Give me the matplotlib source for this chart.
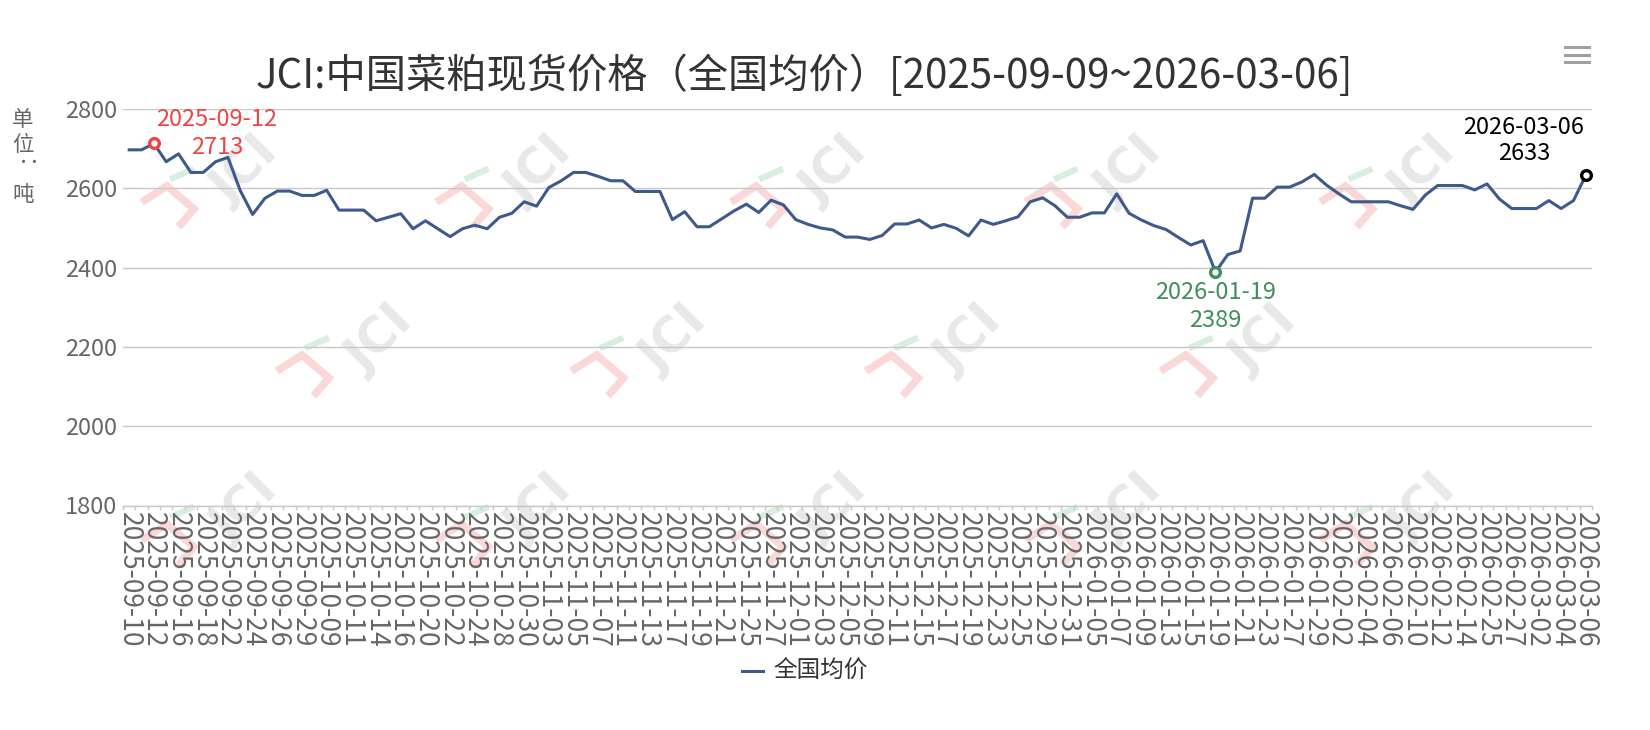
import matplotlib
matplotlib.use('Agg')
import matplotlib.pyplot as plt
from matplotlib.lines import Line2D
import numpy as np

plt.rcParams['font.family'] = ['Noto Sans CJK SC', 'DejaVu Sans']

dates = [
    "2025-09-10", "2025-09-11", "2025-09-12", "2025-09-15", "2025-09-16", "2025-09-17",
    "2025-09-18", "2025-09-19", "2025-09-22", "2025-09-23", "2025-09-24", "2025-09-25",
    "2025-09-26", "2025-09-28", "2025-09-29", "2025-09-30", "2025-10-09", "2025-10-10",
    "2025-10-11", "2025-10-13", "2025-10-14", "2025-10-15", "2025-10-16", "2025-10-17",
    "2025-10-20", "2025-10-21", "2025-10-22", "2025-10-23", "2025-10-24", "2025-10-27",
    "2025-10-28", "2025-10-29", "2025-10-30", "2025-10-31", "2025-11-03", "2025-11-04",
    "2025-11-05", "2025-11-06", "2025-11-07", "2025-11-10", "2025-11-11", "2025-11-12",
    "2025-11-13", "2025-11-14", "2025-11-17", "2025-11-18", "2025-11-19", "2025-11-20",
    "2025-11-21", "2025-11-24", "2025-11-25", "2025-11-26", "2025-11-27", "2025-11-28",
    "2025-12-01", "2025-12-02", "2025-12-03", "2025-12-04", "2025-12-05", "2025-12-08",
    "2025-12-09", "2025-12-10", "2025-12-11", "2025-12-12", "2025-12-15", "2025-12-16",
    "2025-12-17", "2025-12-18", "2025-12-19", "2025-12-22", "2025-12-23", "2025-12-24",
    "2025-12-25", "2025-12-26", "2025-12-29", "2025-12-30", "2025-12-31", "2026-01-04",
    "2026-01-05", "2026-01-06", "2026-01-07", "2026-01-08", "2026-01-09", "2026-01-12",
    "2026-01-13", "2026-01-14", "2026-01-15", "2026-01-16", "2026-01-19", "2026-01-20",
    "2026-01-21", "2026-01-22", "2026-01-23", "2026-01-26", "2026-01-27", "2026-01-28",
    "2026-01-29", "2026-01-30", "2026-02-02", "2026-02-03", "2026-02-04", "2026-02-05",
    "2026-02-06", "2026-02-09", "2026-02-10", "2026-02-11", "2026-02-12", "2026-02-13",
    "2026-02-14", "2026-02-24", "2026-02-25", "2026-02-26", "2026-02-27", "2026-02-28",
    "2026-03-02", "2026-03-03", "2026-03-04", "2026-03-05", "2026-03-06",
]

prices = [
    2697, 2697, 2713, 2667, 2687, 2640, 2640, 2667, 2678, 2594,
    2534, 2575, 2593, 2593, 2582, 2582, 2595, 2545, 2545, 2545,
    2518, 2527, 2536, 2498, 2518, 2498, 2478, 2498, 2507, 2498,
    2527, 2537, 2566, 2555, 2602, 2619, 2640, 2640, 2630, 2619,
    2619, 2592, 2592, 2592, 2521, 2541, 2503, 2503, 2523, 2543,
    2560, 2539, 2570, 2558, 2521, 2509, 2500, 2495, 2477, 2477,
    2471, 2481, 2510, 2510, 2520, 2500, 2509, 2499, 2480, 2520,
    2509, 2518, 2528, 2566, 2576, 2556, 2527, 2527, 2538, 2538,
    2586, 2537, 2520, 2506, 2496, 2476, 2457, 2468, 2389, 2433,
    2442, 2575, 2575, 2603, 2603, 2616, 2635, 2608, 2586, 2566,
    2566, 2566, 2566, 2556, 2547, 2583, 2607, 2607, 2607, 2596,
    2611, 2573, 2549, 2549, 2549, 2569, 2549, 2569, 2633,
]

series_name = "全国均价"
title_text = "JCI:中国菜粕现货价格（全国均价）[2025-09-09~2026-03-06]"
y_ticks = [1800, 2000, 2200, 2400, 2600, 2800]

W, H = 1650, 730
def fx(p):
    return p / W
def fy(p):
    return 1 - p / H

fig = plt.figure(figsize=(16.5, 7.3), dpi=100)
fig.patch.set_facecolor('white')

# watermarks (background)
def watermark(cx, cy):
    pink = [(-25, -5), (-3, -19), (24, 4), (11, 19)]
    fig.add_artist(Line2D([fx(cx + a) for a, b in pink], [fy(cy + b) for a, b in pink],
                          color='#fbd8d8', lw=5.5, zorder=-2, solid_joinstyle='miter'))
    fig.add_artist(Line2D([fx(cx + 3), fx(cx + 21)], [fy(cy - 27), fy(cy - 35)],
                          color='#d8efdf', lw=4.5, zorder=-2))
    fig.text(fx(cx + 75), fy(cy - 34), "JCI", fontsize=35, fontweight='bold', color='#e8e8e8',
             rotation=45, ha='center', va='center', zorder=-2, family=['DejaVu Sans'])

for k in range(5):
    watermark(170 + 294.6 * k, 205)
for k in range(4):
    watermark(305 + 294.6 * k, 374)
for k in range(5):
    watermark(170 + 294.6 * k, 543)

ax = fig.add_axes([fx(123), fy(505.5), (1592 - 123) / W, (505.5 - 109) / H])
ax.patch.set_alpha(0)

x = np.arange(len(dates))
line_color = '#3e5a8c'
ax.plot(x, prices, color=line_color, lw=2.2, zorder=3)

ax.set_xlim(-0.5, len(dates) - 0.5)
ax.set_ylim(y_ticks[0], y_ticks[-1])
ax.set_yticks(y_ticks)
ax.set_yticklabels([str(v) for v in y_ticks])
ax.yaxis.grid(True, color='#c8c8c8', lw=1)
ax.set_axisbelow(True)
for s in ['left', 'right', 'top']:
    ax.spines[s].set_visible(False)
ax.spines['bottom'].set_color('#c8c8c8')
ax.spines['bottom'].set_linewidth(1)
ax.tick_params(axis='y', length=0, labelsize=17, labelcolor='#666666', pad=4)

ax.set_xticks(x[::2])
ax.set_xticklabels(dates[::2], rotation=-90)
ax.set_xticks(np.arange(-0.5, len(dates), 1), minor=True)
ax.tick_params(axis='x', which='major', length=0, labelsize=19, labelcolor='#666666', pad=5)
ax.tick_params(axis='x', which='minor', length=3, color='#c8c8c8', width=1)

# special points
i_max = int(np.argmax(prices))
i_min = int(np.argmin(prices))
i_last = len(prices) - 1
specials = [
    (i_max, '#ee4444', (63, 24), (63, -4)),
    (i_min, '#3d8f5c', (0, -21), (0, -49)),
    (i_last, '#000000', (-62, 48), (-62, 22)),
]
for idx, col, off1, off2 in specials:
    ax.plot([x[idx]], [prices[idx]], 'o', mfc='white', mec=col, ms=7, mew=2.4, zorder=5, clip_on=False)
    ax.annotate(dates[idx], xy=(x[idx], prices[idx]), xytext=off1, textcoords='offset pixels',
                ha='center', va='center', fontsize=17, color=col, annotation_clip=False)
    ax.annotate(str(prices[idx]), xy=(x[idx], prices[idx]), xytext=off2, textcoords='offset pixels',
                ha='center', va='center', fontsize=17, color=col, annotation_clip=False)

# title
fig.text(fx(804), fy(76), title_text, fontsize=29, color='#333333', ha='center', va='center')

# y unit label (vertical stacked)
for ch, yy, rot in [("单", 120, 0), ("位", 145, 0), ("：", 169, -90), ("吨", 195, 0)]:
    fig.text(fx(23), fy(yy), ch, fontsize=15.5, color='#666666', ha='center', va='center', rotation=rot)

# legend
fig.add_artist(Line2D([fx(742), fx(763)], [fy(671), fy(671)], color=line_color, lw=2.2))
fig.text(fx(773), fy(671), series_name, fontsize=17, color='#333333', ha='left', va='center')

# menu icon
for yy in [47, 55, 62]:
    fig.add_artist(Line2D([fx(1565), fx(1589)], [fy(yy), fy(yy)], color='#a0a0a0', lw=2.2))

fig.savefig('out.png', dpi=100, facecolor='white')
